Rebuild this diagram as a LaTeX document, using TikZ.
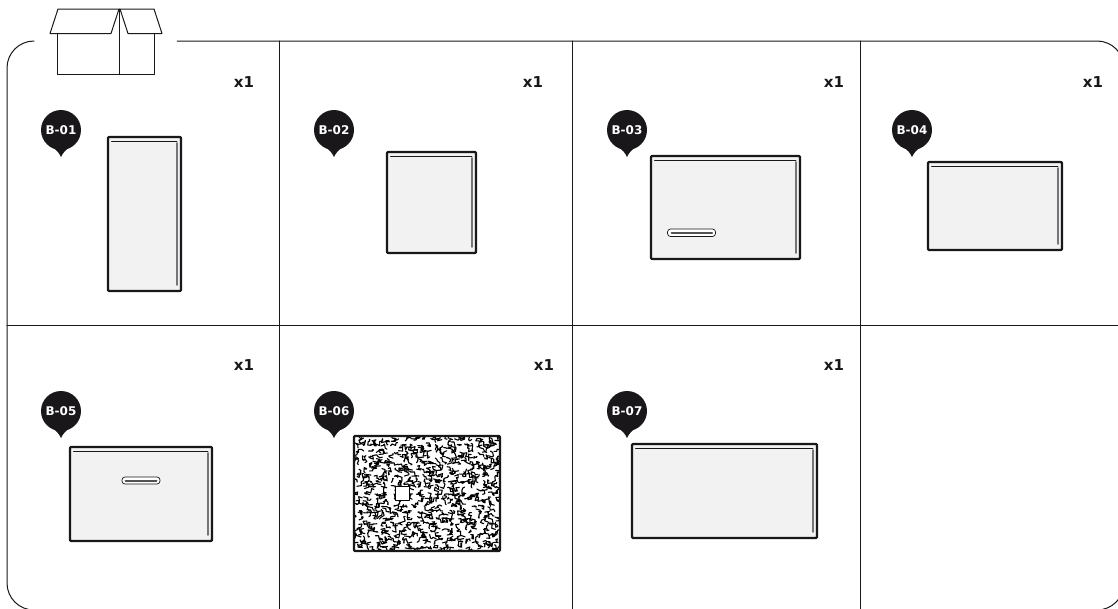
\documentclass[tikz,border=0pt]{standalone}
\usepackage{fontspec}
\setmainfont{DejaVu Sans}
\definecolor{inkdark}{HTML}{19171A}
\definecolor{panelgray}{HTML}{F2F2F2}
\tikzset{
  frameline/.style={draw=inkdark,line width=1pt},
  plate/.style={draw=inkdark,fill=panelgray,line width=2.2pt,rounded corners=1pt},
  pin/.style={circle,fill=inkdark,text=white,minimum size=40pt,inner sep=0pt,font=\fontsize{12}{12}\selectfont\bfseries},
  qty/.style={text=inkdark,inner sep=0pt,font=\fontsize{15}{15}\selectfont\bfseries},
  slot/.style={draw=inkdark,fill=white,line width=.7pt,rounded corners=3pt},
  maze/.style={draw=black,line width=1.1pt}
}
\begin{document}
\begin{tikzpicture}[x=1pt,y=-1pt,line cap=round,line join=round]
  \useasboundingbox (0,0) rectangle (1118,608);
  \clip (0,0) rectangle (1118,608);

  % frame and cells
  \draw[frameline,rounded corners=27pt] (177,41) -- (1124,41) -- (1124,610) -- (7,610) -- (7,41) -- (34,41);
  \draw[frameline] (7,325) -- (1118,325);
  \foreach \x in {279,572,860}
    \draw[frameline] (\x,41) -- (\x,610);

  % carton
  \draw[frameline] (57.5,33.5) -- (57.5,74) -- (154.5,74) -- (154.5,33.5);
  \draw[frameline] (119.5,9) -- (119.5,74);
  \draw[frameline] (119,9) -- (58,9) -- (50,33.5) -- (111,33.5) -- cycle;
  \draw[frameline] (120,9) -- (154,9) -- (162,33.5) -- (128,33.5) -- cycle;

  % plates
  \foreach \xa/\ya/\xb/\yb in {108/137/181/291,387/152/476/253,651/156/800/259,
      928/162/1062/250,70/447/212/541,632/444/817/538}{
    \draw[plate] (\xa,\ya) rectangle (\xb,\yb);
    \draw[inkdark,line width=.9pt] (\xa+3.5,\ya+4) -- (\xb-4,\ya+4);
    \draw[inkdark!60,line width=1.6pt] (\xb-4,\ya+6) -- (\xb-4,\yb-6);
  }
  \draw[slot] (667.5,229) rectangle (715.5,236.5);
  \draw[inkdark!75,line width=2pt] (671.5,232.7) -- (712,232.7);
  \draw[slot] (122,477) rectangle (160,484);
  \draw[inkdark!75,line width=2pt] (125.5,480.5) -- (156.5,480.5);

  % textured plate
  \begin{scope}
    \clip (354,436) rectangle (500,551);
    \pgfmathsetseed{23}
    \foreach \x in {350,356,...,504}
      \foreach \y in {432,438,...,556}
        \draw[maze] ({\x+3*rnd},{\y+3*rnd}) -- ++({4.5*rand},{1.5*rand}) -- ++({1.5*rand},{4.5*rand})
          -- ++({4.5*rand},{1.5*rand}) -- ++({1.5*rand},{4.5*rand}) -- ++({4.5*rand},{1.5*rand});
  \end{scope}
  \draw[inkdark,line width=2.2pt,rounded corners=1pt] (354,436) rectangle (500,551);
  \draw[fill=white,draw=black,line width=.8pt] (395.5,486.5) rectangle (409.5,500.5);

  % tags
  \foreach \name/\cx/\cy/\txt in {p1/61/130/B-01,p2/334/130/B-02,p3/627/130/B-03,p4/912/130/B-04,
      p5/61/411/B-05,p6/334/411/B-06,p7/627/411/B-07}{
    \fill[inkdark] (\cx-9,\cy+17) .. controls (\cx-4,\cy+20) and (\cx-2,\cy+23) .. (\cx,\cy+27)
      .. controls (\cx+2,\cy+23) and (\cx+4,\cy+20) .. (\cx+9,\cy+17) -- cycle;
    \node[pin] (\name) at (\cx,\cy) {\txt};
  }

  % counts
  \foreach \name/\cx/\cy in {q1/244/82,q2/533/82,q3/834/82,q4/1093/82,q5/244/365,q6/544/365,q7/834/365}
    \node[qty] (\name) at (\cx,\cy) {x1};
\end{tikzpicture}
\end{document}
